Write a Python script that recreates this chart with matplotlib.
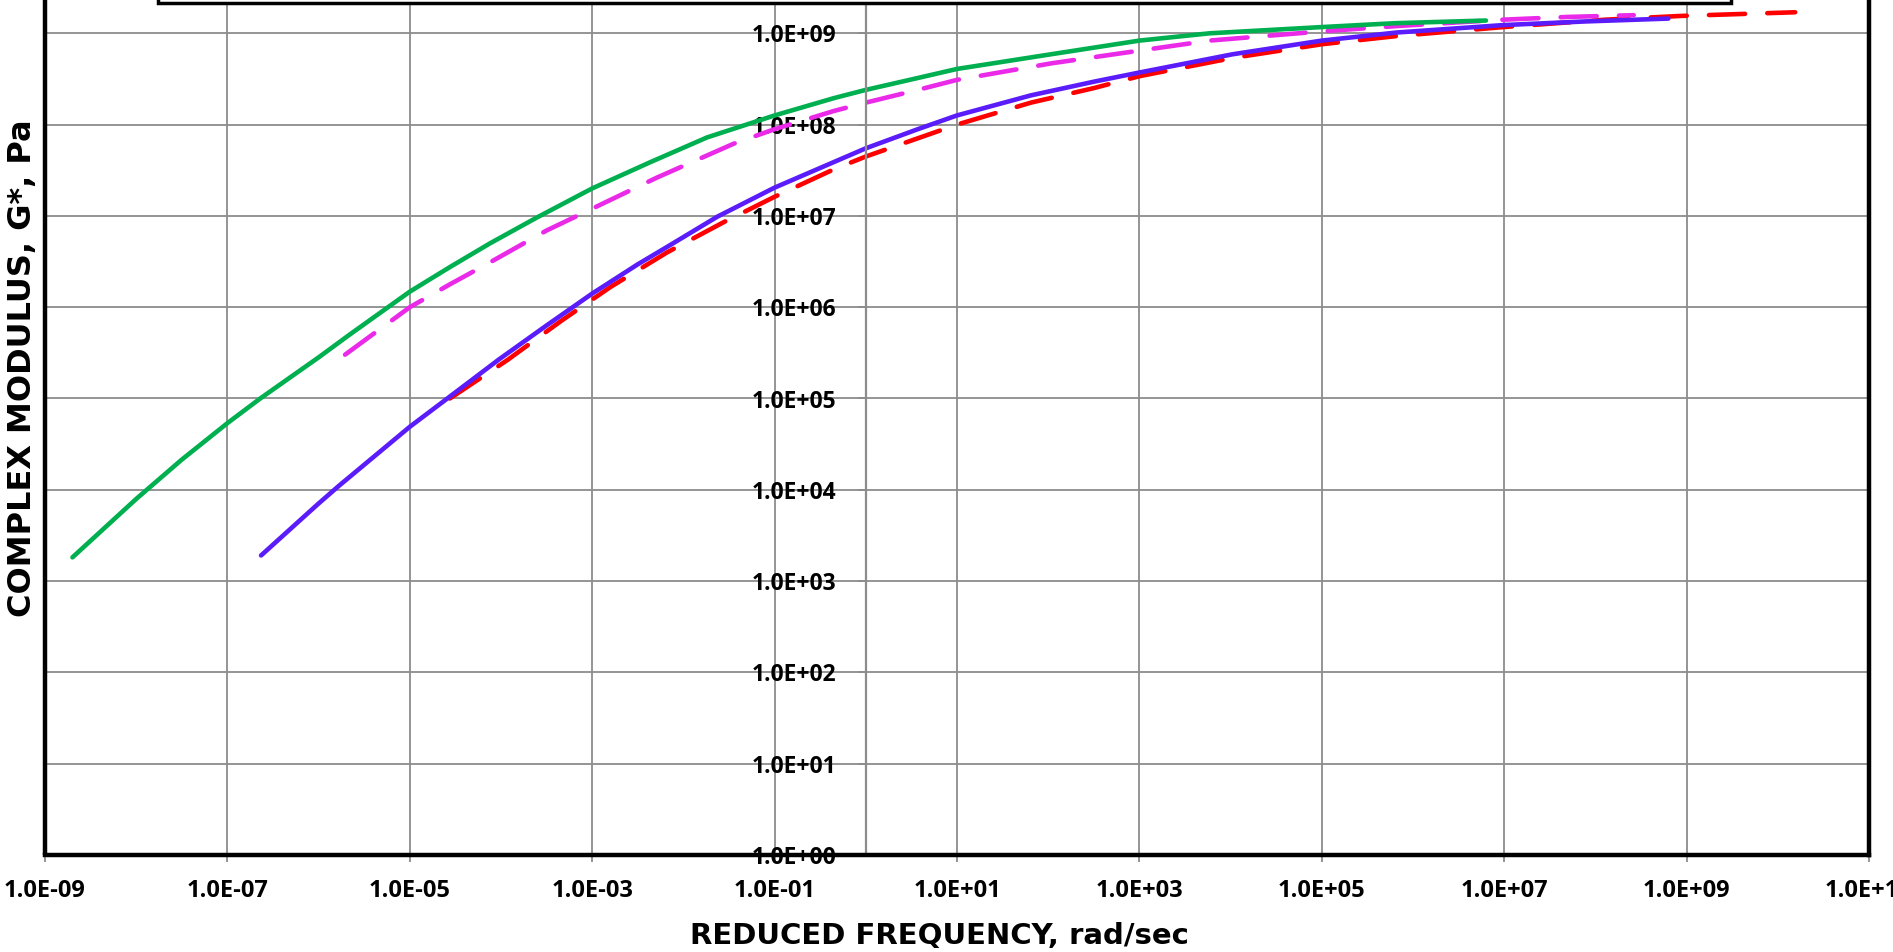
import matplotlib
matplotlib.use("Agg")
import matplotlib.pyplot as plt
from matplotlib.patches import Rectangle
from matplotlib.ticker import FuncFormatter, NullLocator

# reduced frequency (rad/sec) and complex modulus G* (Pa)
green_freq = [2.0e-9, 1.0e-8, 3.16e-8, 1.0e-7, 2.29e-7, 1.0e-6, 2.19e-6, 1.0e-5, 2.75e-5,
              7.59e-5, 2.45e-4, 1.0e-3, 4.37e-3, 1.82e-2, 0.1, 0.447, 1.0, 3.72, 10.0,
              107.0, 1.0e3, 5.89e3, 1.0e5, 6.31e5, 6.31e6]
green_mod = [1.82e3, 7.94e3, 2.14e4, 5.37e4, 1.0e5, 2.82e5, 5.01e5, 1.48e6, 2.75e6,
             5.01e6, 9.55e6, 2.0e7, 3.89e7, 7.24e7, 1.26e8, 1.95e8, 2.40e8, 3.24e8, 4.07e8,
             5.89e8, 8.32e8, 1.0e9, 1.17e9, 1.29e9, 1.38e9]

magenta_freq = [1.95e-6, 1.0e-5, 2.75e-5, 7.24e-5, 3.16e-4, 1.0e-3, 5.13e-3, 3.55e-2, 0.1,
                0.447, 1.0, 3.72, 10.0, 107.0, 1.0e3, 5.89e3, 1.0e5, 6.61e5, 9.77e6,
                4.90e7, 2.63e8]
magenta_mod = [3.02e5, 1.0e6, 1.78e6, 3.02e6, 6.92e6, 1.20e7, 2.63e7, 6.17e7, 8.91e7,
               1.41e8, 1.74e8, 2.40e8, 3.09e8, 4.68e8, 6.46e8, 8.32e8, 1.05e9, 1.20e9, 1.41e9,
               1.51e9, 1.58e9]

blue_freq = [2.34e-7, 1.0e-6, 1.66e-6, 1.0e-5, 2.75e-5, 9.55e-5, 3.16e-4, 1.0e-3, 3.16e-3,
             6.61e-3, 2.34e-2, 0.1, 0.447, 1.0, 3.72, 10.0, 64.6, 316.0, 1.0e3, 1.05e4,
             1.0e5, 6.61e5, 9.77e6, 7.94e7, 6.31e8]
blue_mod = [1.91e3, 7.08e3, 1.10e4, 4.90e4, 1.05e5, 2.69e5, 6.31e5, 1.41e6, 2.95e6,
            4.57e6, 9.77e6, 2.04e7, 3.89e7, 5.50e7, 8.91e7, 1.26e8, 2.09e8, 2.95e8, 3.72e8, 5.89e8,
            8.32e8, 1.02e9, 1.23e9, 1.35e9, 1.45e9]

red_freq = [2.75e-5, 1.17e-4, 4.57e-4, 1.58e-3, 6.61e-3, 2.75e-2, 0.1, 0.447, 1.0, 3.72,
            10.0, 64.6, 316.0, 1.0e3, 1.05e4, 1.0e5, 6.61e5, 9.77e6, 1.29e8, 8.71e8, 1.55e10]
red_mod = [1.0e5, 2.63e5, 7.08e5, 1.66e6, 3.98e6, 8.51e6, 1.62e7, 3.24e7, 4.47e7, 7.08e7,
           1.0e8, 1.74e8, 2.51e8, 3.39e8, 5.37e8, 7.59e8, 9.33e8, 1.17e9, 1.41e9, 1.55e9, 1.70e9]

x_ticks = [10.0 ** k for k in range(-9, 12, 2)]
y_ticks = [10.0 ** k for k in range(0, 10)]

plt.rcParams["font.family"] = ["Open Sans", "DejaVu Sans"]
plt.rcParams["font.weight"] = "bold"
plt.rcParams["lines.scale_dashes"] = False

W, H = 1893, 952
fig = plt.figure(figsize=(W / 100, H / 100), dpi=100)
ax = fig.add_axes([45 / W, 97 / H, 1824 / W, 913 / H])
ax.set_xscale("log")
ax.set_yscale("log")
ax.set_xlim(1e-9, 1e11)
ax.set_ylim(1, 1e10)

lw = 3.3
ax.plot(red_freq, red_mod, color="#ff0000", lw=lw, ls=(0, (26, 16)), dash_capstyle="round")
ax.plot(blue_freq, blue_mod, color="#5a1cfa", lw=lw, solid_capstyle="round")
ax.plot(magenta_freq, magenta_mod, color="#ea2ae8", lw=lw, ls=(0, (26, 16)), dash_capstyle="round")
ax.plot(green_freq, green_mod, color="#00b050", lw=lw, solid_capstyle="round")

# grid and axes in the Excel style: vertical axis crosses at x = 1
ax.set_axisbelow(True)
ax.grid(True, color="#8c8c8c", lw=1.3)
ax.set_xticks(x_ticks)
ax.set_yticks(y_ticks)
ax.xaxis.set_minor_locator(NullLocator())
ax.yaxis.set_minor_locator(NullLocator())
fmt = FuncFormatter(lambda v, p: f"{v:.1E}")
ax.xaxis.set_major_formatter(fmt)
ax.yaxis.set_major_formatter(fmt)
ax.tick_params(axis="x", direction="out", length=5, width=1.3, color="#8c8c8c",
               labelsize=17, pad=12)
ax.tick_params(axis="y", direction="out", length=6, width=1.3, color="#8c8c8c",
               labelsize=16.5, pad=15)

ax.spines["left"].set_position(("data", 1.0))
ax.spines["left"].set_color("#8c8c8c")
ax.spines["left"].set_linewidth(1.6)
ax.spines["top"].set_visible(False)
for side in ("bottom", "right"):
    ax.spines[side].set_color("black")
    ax.spines[side].set_linewidth(3.2)
ax.plot([0, 0], [0, 1], transform=ax.transAxes, color="black", lw=3.2,
        clip_on=False, solid_capstyle="butt")

fig.text(939 / W, 16 / H, "REDUCED FREQUENCY, rad/sec", ha="center", va="center",
         fontsize=21, fontweight="bold", family="DejaVu Sans")
fig.text(23 / W, (H - 368) / H, "COMPLEX MODULUS, G*, Pa", ha="center", va="center",
         rotation=90, fontsize=23, fontweight="bold", family="DejaVu Sans")

# bottom edge of the legend box, which is cut off at the top
fig.add_artist(Rectangle((158 / W, 1 - 2.5 / H), (1731 - 158) / W, 0.1,
                         transform=fig.transFigure, facecolor="white",
                         edgecolor="black", lw=2.5, zorder=5))

fig.savefig("out.png", dpi=100)
